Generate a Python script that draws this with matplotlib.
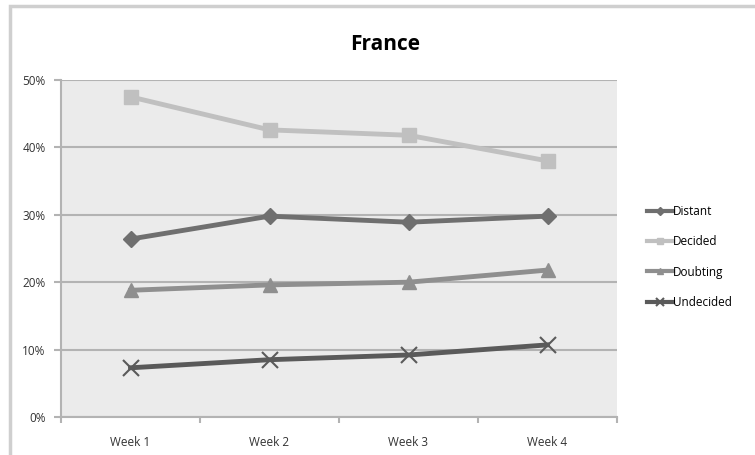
import numpy as np
import matplotlib
matplotlib.use("Agg")
import matplotlib.pyplot as plt
from matplotlib.patches import Rectangle
import matplotlib.ticker as ticker

weeks = ["Week 1", "Week 2", "Week 3", "Week 4"]
distant = [26.4, 29.8, 28.9, 29.8]
decided = [47.5, 42.6, 41.8, 38.0]
doubting = [18.8, 19.6, 20.0, 21.8]
undecided = [7.3, 8.5, 9.2, 10.7]

plt.rcParams["font.family"] = ["Open Sans", "DejaVu Sans"]

fig = plt.figure(figsize=(7.55, 4.55), dpi=100)
fig.patches.append(Rectangle((10 / 755, -0.05), 1.0, 1 - 6 / 455 + 0.05,
                             transform=fig.transFigure, fill=False,
                             edgecolor="#cfcfcf", linewidth=2.5))

ax = fig.add_axes([61 / 755, 1 - 417 / 455, 556 / 755, 337 / 455])
ax.set_facecolor("#ebebeb")
x = np.arange(len(weeks))

ax.plot(x, distant, color="#6f6f6f", lw=3.5, marker="D", ms=8, label="Distant")
ax.plot(x, decided, color="#c0c0c0", lw=3.5, marker="s", ms=10, label="Decided")
ax.plot(x, doubting, color="#8f8f8f", lw=3.5, marker="^", ms=10, label="Doubting")
ax.plot(x, undecided, color="#5a5a5a", lw=3.5, marker="x", ms=11, mew=1.5,
        label="Undecided")

ax.set_xlim(-0.5, 3.5)
ax.set_ylim(0, 50)
ax.yaxis.set_major_locator(ticker.MultipleLocator(10))
ax.yaxis.set_major_formatter(ticker.FuncFormatter(lambda v, p: "%d%%" % v))
ax.grid(True, axis="y", color="#b3b3b3", lw=1.5)
ax.set_axisbelow(True)

ax.set_xticks(x)
ax.set_xticklabels(weeks)
ax.set_xticks(np.arange(-0.5, 4, 1), minor=True)
ax.tick_params(axis="x", which="major", length=0, pad=14, labelsize=8.5, colors="#333333")
ax.tick_params(axis="x", which="minor", length=4, width=1.5, color="#b3b3b3")
ax.tick_params(axis="y", length=5, width=1.5, color="#b3b3b3", labelsize=8.5,
               labelcolor="#333333", pad=6)

for s in ["top", "right"]:
    ax.spines[s].set_visible(False)
for s in ["left", "bottom"]:
    ax.spines[s].set_color("#b3b3b3")
    ax.spines[s].set_linewidth(1.5)

fig.text(385 / 755, 1 - 45 / 455, "France", ha="center", va="center",
         fontsize=15, fontweight="bold")

leg = fig.legend(loc="center left", bbox_to_anchor=(636 / 755, 1 - 257 / 455),
                 frameon=False, fontsize=8.5, handlelength=2.2, handletextpad=0.0,
                 labelspacing=1.45, markerscale=0.5)
for line in leg.get_lines():
    line.set_linewidth(3)

fig.savefig("out.png", dpi=100)
